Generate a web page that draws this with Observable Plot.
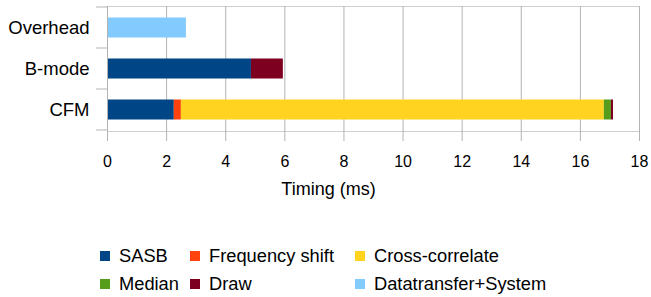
<!DOCTYPE html>
<html>
<head>
<meta charset="utf-8">
<script src="https://cdn.jsdelivr.net/npm/d3@7"></script>
<script src="https://cdn.jsdelivr.net/npm/@observablehq/plot@0.6"></script>
<style>
  body { margin: 0; background: #fff; font-family: "Liberation Sans", Arial, sans-serif; }
  #wrap { position: relative; width: 651px; height: 297px; }
  #legend { position: absolute; top: 242px; left: 100px; display: grid;
    grid-template-columns: 90px 165px auto; grid-auto-rows: 28px; font-size: 18.3px; color: #000; }
  .item { display: flex; align-items: center; gap: 9px; white-space: nowrap; }
  .sw { width: 10px; height: 10px; flex: none; }
</style>
</head>
<body>
<div id="wrap"><div id="chart"></div><div id="legend"></div></div>
<script>
const categories = ["Overhead", "B-mode", "CFM"];
const seriesNames = ["SASB", "Frequency shift", "Cross-correlate", "Median", "Draw", "Datatransfer+System"];
const seriesColors = ["#004586", "#ff420e", "#ffd320", "#579d1c", "#7e0021", "#83caff"];
// values per category: [Overhead, B-mode, CFM] (ms)
const sasb = [0, 4.87, 2.26];
const freqShift = [0, 0, 0.24];
const crossCorrelate = [0, 0, 14.31];
const median = [0, 0, 0.24];
const draw = [0, 1.08, 0.07];
const datatransfer = [2.67, 0, 0];
const xTicks = [0, 2, 4, 6, 8, 10, 12, 14, 16, 18];
const xLabel = "Timing (ms)";

const seriesValues = [sasb, freqShift, crossCorrelate, median, draw, datatransfer];
const rows = [];
seriesValues.forEach((vals, s) => {
  vals.forEach((v, c) => { if (v > 0) rows.push({category: categories[c], series: seriesNames[s], value: v}); });
});

const bandTicks = (index, scales, values, dims) => {
  const y = scales.y;
  const step = y(categories[1]) - y(categories[0]);
  const bounds = categories.map(c => y(c)).concat([y(categories[categories.length - 1]) + step]);
  const g = d3.create("svg:g");
  const x0 = dims.marginLeft;
  for (const b of bounds) {
    g.append("line").attr("x1", x0 - 11).attr("x2", x0).attr("y1", b).attr("y2", b)
      .attr("stroke", "#b3b3b3").attr("stroke-width", 1);
  }
  return g.node();
};

const chart = Plot.plot({
  width: 651,
  height: 220,
  marginLeft: 107,
  marginRight: 12,
  marginTop: 6,
  marginBottom: 89,
  style: {fontFamily: "Liberation Sans, Arial, sans-serif", color: "#000", background: "#fff", overflow: "visible"},
  x: {domain: [0, 18], ticks: xTicks, label: null},
  y: {domain: categories, padding: 0, label: null},
  color: {domain: seriesNames, range: seriesColors},
  marks: [
    Plot.frame({stroke: "#d0d0d0", strokeOpacity: 1}),
    Plot.gridX(xTicks, {stroke: "#b3b3b3", strokeOpacity: 1}),
    Plot.barX(rows, Plot.stackX({y: "category", x: "value", fill: "series", order: seriesNames, insetTop: 10.5, insetBottom: 10.5})),
    Plot.ruleX([0], {stroke: "#b3b3b3"}),
    bandTicks,
    Plot.axisX({ticks: xTicks, tickSize: 10, tickPadding: 14, stroke: "#b3b3b3", fontSize: 16, fill: "#000", label: null}),
    Plot.axisY({tickSize: 0, tickPadding: 18, fontSize: 18.5, fill: "#000", label: null}),
    Plot.text([xLabel], {frameAnchor: "bottom", dx: -45, dy: 63, fontSize: 18, fill: "#000"})
  ]
});
document.getElementById("chart").appendChild(chart);

const legend = document.getElementById("legend");
seriesNames.forEach((n, i) => {
  const it = document.createElement("div");
  it.className = "item";
  const sw = document.createElement("span");
  sw.className = "sw"; sw.style.background = seriesColors[i];
  const t = document.createElement("span"); t.textContent = n;
  it.appendChild(sw); it.appendChild(t);
  legend.appendChild(it);
});
</script>
</body>
</html>
